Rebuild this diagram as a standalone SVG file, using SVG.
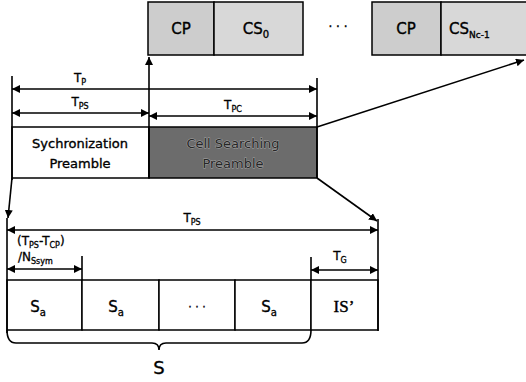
<svg xmlns="http://www.w3.org/2000/svg" width="526" height="382" viewBox="0 0 526 382">
<defs>
<marker id="ah" viewBox="0 0 10 10" refX="10" refY="5" markerWidth="8" markerHeight="8" markerUnits="userSpaceOnUse" orient="auto-start-reverse">
<path d="M0,0 L10,5 L0,10 z" fill="#000"/>
</marker>
<style>
.bx{stroke:#000;stroke-width:1.5}
.ln{stroke:#000;stroke-width:1.6;fill:none}
.t{font-family:"DejaVu Sans",Verdana,sans-serif;fill:#000;stroke:#000;stroke-width:0.35}
.lbl{font-family:"DejaVu Sans",Verdana,sans-serif;font-size:12px;fill:#000;stroke:#000;stroke-width:0.3}
.sub{font-size:8px}
.dk{font-family:"DejaVu Sans",Verdana,sans-serif;font-size:13px;fill:#262626;stroke:#a8a8a8;stroke-width:0.9;paint-order:stroke}
</style>
</defs>
<rect width="526" height="382" fill="#fff"/>

<g id="top-cp0">
<rect class="bx" x="148" y="2" width="66" height="53" fill="#cdcdcd"/>
<text class="t" x="181" y="34" font-size="15" text-anchor="middle">CP</text>
</g>
<g id="top-cs0">
<rect class="bx" x="214" y="2" width="89" height="53" fill="#d8d8d8"/>
<text class="t" x="256" y="34" font-size="15" text-anchor="middle">CS<tspan font-size="10" dy="4">0</tspan></text>
</g>
<text class="t" x="338" y="31" font-size="12" text-anchor="middle">· · ·</text>
<g id="top-cpn">
<rect class="bx" x="372" y="2" width="69" height="53" fill="#cdcdcd"/>
<text class="t" x="406" y="34" font-size="15" text-anchor="middle">CP</text>
</g>
<g id="top-csn">
<rect class="bx" x="441" y="2" width="86" height="53" fill="#d8d8d8"/>
<text class="t" x="449" y="34" font-size="15">CS<tspan font-size="9" dy="4">Nc-1</tspan></text>
</g>

<g id="sync-preamble">
<rect class="bx" x="12" y="127" width="137" height="51" fill="#fff"/>
<text class="t" x="80" y="148" font-size="13" text-anchor="middle">Sychronization</text>
<text class="t" x="80" y="168" font-size="13" text-anchor="middle">Preamble</text>
</g>
<g id="cell-preamble">
<rect class="bx" x="149" y="127" width="168" height="51" fill="#6c6c6c"/>
<text class="dk" x="233" y="148" text-anchor="middle">Cell Searching</text>
<text class="dk" x="233" y="168" text-anchor="middle">Preamble</text>
</g>

<g id="sa1"><rect class="bx" x="7" y="280" width="75" height="50" fill="#fff"/>
<text class="t" x="38" y="312" font-size="15" text-anchor="middle">S<tspan font-size="10" dy="4">a</tspan></text></g>
<g id="sa2"><rect class="bx" x="82" y="280" width="77" height="50" fill="#fff"/>
<text class="t" x="116" y="312" font-size="15" text-anchor="middle">S<tspan font-size="10" dy="4">a</tspan></text></g>
<g id="dots"><rect class="bx" x="159" y="280" width="76" height="50" fill="#fff"/>
<text class="t" x="197" y="310" font-size="11" text-anchor="middle">· · ·</text></g>
<g id="sa3"><rect class="bx" x="235" y="280" width="76" height="50" fill="#fff"/>
<text class="t" x="269" y="312" font-size="15" text-anchor="middle">S<tspan font-size="10" dy="4">a</tspan></text></g>
<g id="is"><rect class="bx" x="311" y="280" width="67" height="50" fill="#fff"/>
<text x="344" y="312" font-family="'Liberation Serif',serif" font-size="17" text-anchor="middle" stroke="#000" stroke-width="0.4">IS’</text></g>

<g id="connectors">
<line class="ln" x1="12" y1="76" x2="12" y2="180"/>
<line class="ln" x1="149" y1="178" x2="149" y2="57" marker-end="url(#ah)"/>
<line class="ln" x1="317" y1="78" x2="317" y2="178"/>
<line class="ln" x1="12" y1="89" x2="317" y2="89" marker-start="url(#ah)" marker-end="url(#ah)"/>
<text class="lbl" x="80" y="82" text-anchor="middle">T<tspan class="sub" dy="3">P</tspan></text>
<line class="ln" x1="12" y1="113" x2="149" y2="113" marker-start="url(#ah)" marker-end="url(#ah)"/>
<text class="lbl" x="80" y="106" text-anchor="middle">T<tspan class="sub" dy="3">PS</tspan></text>
<line class="ln" x1="149" y1="116" x2="317" y2="116" marker-start="url(#ah)" marker-end="url(#ah)"/>
<text class="lbl" x="233" y="109" text-anchor="middle">T<tspan class="sub" dy="3">PC</tspan></text>
<line class="ln" x1="317" y1="127" x2="524" y2="60" marker-end="url(#ah)"/>
<line class="ln" x1="12" y1="178" x2="8" y2="218" marker-end="url(#ah)"/>
<line class="ln" x1="7" y1="218" x2="7" y2="333"/>
<line class="ln" x1="317" y1="178" x2="377" y2="221" marker-end="url(#ah)"/>
<line class="ln" x1="378" y1="219" x2="378" y2="331"/>
<line class="ln" x1="7" y1="230" x2="378" y2="230" marker-start="url(#ah)" marker-end="url(#ah)"/>
<text class="lbl" x="192" y="222" text-anchor="middle">T<tspan class="sub" dy="3">PS</tspan></text>
<text class="lbl" x="17" y="245">(T<tspan class="sub" dy="3">PS</tspan><tspan dy="-3">-T</tspan><tspan class="sub" dy="3">CP</tspan><tspan dy="-3">)</tspan></text>
<text class="lbl" x="18" y="261">/N<tspan class="sub" dy="3">Ssym</tspan></text>
<line class="ln" x1="82" y1="256" x2="82" y2="280"/>
<line class="ln" x1="7" y1="269" x2="82" y2="269" marker-start="url(#ah)" marker-end="url(#ah)"/>
<line class="ln" x1="311" y1="257" x2="311" y2="280"/>
<line class="ln" x1="311" y1="270" x2="378" y2="270" marker-start="url(#ah)" marker-end="url(#ah)"/>
<text class="lbl" x="340" y="260" text-anchor="middle">T<tspan class="sub" dy="3">G</tspan></text>
<path class="ln" d="M7,330 Q7,343 16,343 L152,343 Q159,343 159,350 Q159,343 166,343 L302,343 Q311,343 311,330"/>
<text class="t" x="159" y="374" font-size="18" text-anchor="middle">S</text>
</g>
</svg>
